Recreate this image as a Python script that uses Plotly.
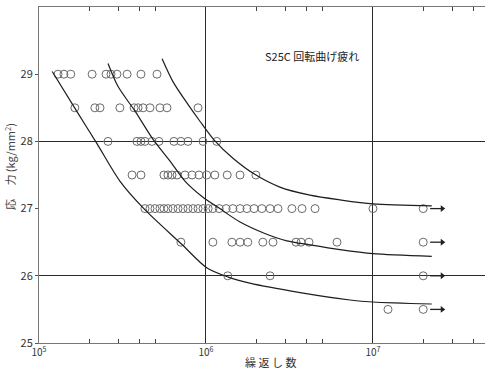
import plotly.graph_objects as go

# ---------------- data ----------------
stress_levels = [29.0, 28.5, 28.0, 27.5, 27.0, 26.5, 26.0, 25.5]

cycles_290 = [1.30e5, 1.41e5, 1.55e5, 2.08e5, 2.52e5, 2.70e5, 2.93e5, 3.37e5, 4.08e5, 5.09e5]
cycles_285 = [1.64e5, 2.16e5, 2.32e5, 3.05e5, 3.71e5, 3.92e5, 4.20e5, 4.62e5, 5.30e5, 5.84e5, 8.96e5]
cycles_280 = [2.59e5, 3.86e5, 4.08e5, 4.31e5, 4.75e5, 5.23e5, 6.43e5, 7.08e5, 7.80e5, 9.60e5, 1.16e6]
cycles_275 = [3.61e5, 4.08e5, 5.60e5, 5.92e5, 6.26e5, 6.71e5, 7.49e5, 8.25e5, 9.08e5, 1.01e6,
              1.13e6, 1.34e6, 1.60e6, 1.99e6]
cycles_270 = [4.31e5, 4.62e5, 4.95e5, 5.30e5, 5.60e5, 5.92e5, 6.34e5, 6.80e5, 7.28e5, 7.80e5,
              8.36e5, 8.96e5, 9.60e5, 1.03e6, 1.10e6, 1.20e6, 1.32e6, 1.45e6, 1.60e6, 1.76e6,
              1.94e6, 2.16e6, 2.42e6, 2.70e6, 3.27e6, 3.76e6, 4.50e6, 1.00e7, 2.00e7]
cycles_265 = [7.08e5, 1.10e6, 1.43e6, 1.60e6, 1.78e6, 2.19e6, 2.52e6, 3.46e6, 3.71e6, 4.14e6,
              6.09e6, 2.00e7]
cycles_260 = [1.35e6, 2.42e6, 2.00e7]
cycles_255 = [1.23e7, 2.00e7]

# run-outs (did not fail) marked with arrows
runout_cycles = [2.0e7, 2.0e7, 2.0e7, 2.0e7]
runout_stress = [27.0, 26.5, 26.0, 25.5]

# S-N curves
curve1_N = [1.20e5, 1.71e5, 2.22e5, 3.05e5, 4.32e5, 7.08e5, 1.01e6, 1.36e6, 1.83e6, 3.66e6, 7.28e6, 1.0e7, 2.25e7]
curve1_S = [29.04, 28.42, 27.97, 27.41, 26.98, 26.48, 26.12, 25.98, 25.89, 25.75, 25.64, 25.61, 25.58]
curve2_N = [2.59e5, 2.97e5, 3.76e5, 4.82e5, 6.08e5, 7.48e5, 9.59e5, 1.21e6, 1.60e6, 2.25e6, 3.05e6, 4.20e6, 6.34e6, 1.0e7, 2.25e7]
curve2_S = [29.16, 28.82, 28.45, 28.03, 27.71, 27.41, 27.17, 27.00, 26.80, 26.63, 26.52, 26.46, 26.39, 26.33, 26.29]
curve3_N = [5.46e5, 6.34e5, 7.80e5, 9.20e5, 1.12e6, 1.45e6, 1.96e6, 2.77e6, 4.20e6, 6.34e6, 1.0e7, 2.25e7]
curve3_S = [29.23, 28.89, 28.55, 28.30, 28.02, 27.75, 27.51, 27.32, 27.20, 27.13, 27.07, 27.04]

x_tick_vals = [1e5, 1e6, 1e7]
x_tick_text = ["10<sup>5</sup>", "10<sup>6</sup>", "10<sup>7</sup>"]
x_minor_vals = [2e5, 3e5, 4e5, 5e5, 2e6, 3e6, 4e6, 5e6, 2e7, 3e7, 4e7, 5e7]
y_tick_vals = [25, 26, 27, 28, 29]
y_grid_vals = [26, 28]

title_text = "S25C 回転曲げ疲れ"
x_title = "繰 返 し 数"
y_title = "応　 力 (kg/mm<sup>2</sup>)"

FONT = "Noto Sans CJK JP"

# ---------------- figure ----------------
fig = go.Figure()

point_rows = [cycles_290, cycles_285, cycles_280, cycles_275,
              cycles_270, cycles_265, cycles_260, cycles_255]
for s, row in zip(stress_levels, point_rows):
    fig.add_trace(go.Scatter(
        x=row, y=[s] * len(row), mode="markers",
        marker=dict(symbol="circle-open", size=8, color="#6a6a6a",
                    line=dict(width=1, color="#6a6a6a"))))

for cn, cs in [(curve1_N, curve1_S), (curve2_N, curve2_S), (curve3_N, curve3_S)]:
    fig.add_trace(go.Scatter(
        x=cn, y=cs, mode="lines",
        line=dict(color="#1e1e1e", width=1.2, shape="spline", smoothing=0.8)))

# run-out arrows: short shaft + arrow head, drawn as traces
shaft_x, shaft_y = [], []
for n, s in zip(runout_cycles, runout_stress):
    shaft_x += [n * 1.1, n * 1.28, None]
    shaft_y += [s, s, None]
fig.add_trace(go.Scatter(x=shaft_x, y=shaft_y, mode="lines",
                         line=dict(color="#222", width=1.3)))
fig.add_trace(go.Scatter(
    x=[n * 1.3 for n in runout_cycles], y=runout_stress, mode="markers",
    marker=dict(symbol="triangle-right", size=6, color="#222", line=dict(width=0))))

fig.add_annotation(
    x=0.613, y=0.885, xref="paper", yref="paper", text=title_text,
    showarrow=False, font=dict(family=FONT, size=11, color="#222"))

# axis titles placed as paper-anchored annotations
fig.add_annotation(
    x=0.518, y=-0.057, xref="paper", yref="paper", text=x_title,
    showarrow=False, xanchor="center", yanchor="middle",
    font=dict(family=FONT, size=11, color="#333"))
fig.add_annotation(
    x=-0.064, y=0.525, xref="paper", yref="paper", text=y_title,
    showarrow=False, textangle=-90, xanchor="center", yanchor="middle",
    font=dict(family=FONT, size=11, color="#444"))

fig.update_layout(
    width=485, height=376,
    margin=dict(l=39, r=0, t=7, b=33, autoexpand=False),
    plot_bgcolor="white", paper_bgcolor="white",
    showlegend=False, hovermode=False,
    font=dict(family=FONT, size=11, color="#333"),
    xaxis=dict(
        type="log", range=[5, 7.671], automargin=False,
        tickvals=x_tick_vals, ticktext=x_tick_text, ticks="",
        showgrid=True, gridcolor="#2a2a2a", gridwidth=1,
        showline=True, linecolor="#777", linewidth=1, mirror="ticks",
        zeroline=False, showspikes=False,
        minor=dict(tickvals=x_minor_vals, ticks="inside", ticklen=4,
                   tickcolor="#444", tickwidth=1, showgrid=False),
        tickfont=dict(family=FONT, size=10, color="#333"),
    ),
    yaxis=dict(
        range=[25, 30], automargin=False,
        tickvals=y_tick_vals, ticks="outside", ticklen=3,
        tickcolor="#555", showgrid=False,
        showline=True, linecolor="#777", linewidth=1, mirror=False,
        zeroline=False, showspikes=False,
        minor=dict(tickvals=y_grid_vals, ticks="", showgrid=True,
                   gridcolor="#2a2a2a", gridwidth=1),
        tickfont=dict(family=FONT, size=11, color="#333"),
    ),
)

fig.write_html(
    "out.html",
    config={"displayModeBar": False, "staticPlot": True},
    post_script="document.body.style.margin='0';document.body.style.overflow='hidden';",
)
